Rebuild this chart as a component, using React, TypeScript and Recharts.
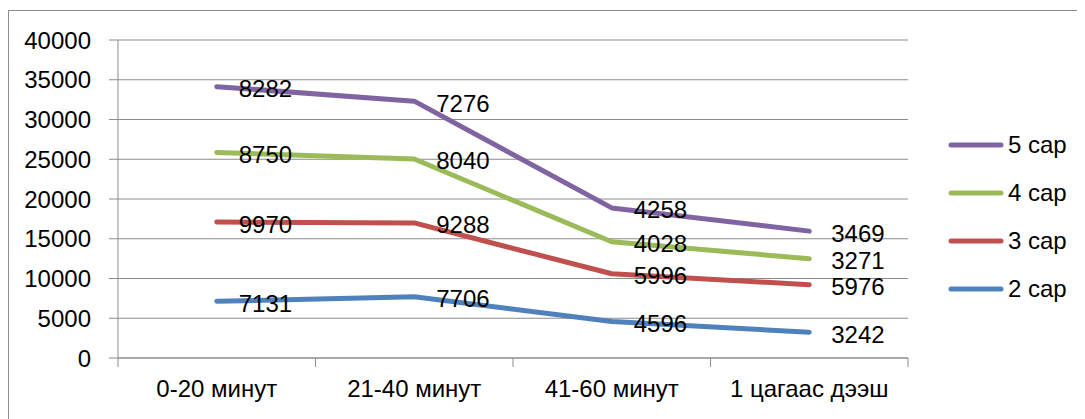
import React from 'react';
import { LineChart, Line, XAxis, YAxis, CartesianGrid, LabelList, Legend } from 'recharts';

const categories = ['0-20 минут', '21-40 минут', '41-60 минут', '1 цагаас дээш'];
const sar2 = [7131, 7706, 4596, 3242];
const sar3 = [9970, 9288, 5996, 5976];
const sar4 = [8750, 8040, 4028, 3271];
const sar5 = [8282, 7276, 4258, 3469];
const yTicks = [0, 5000, 10000, 15000, 20000, 25000, 30000, 35000, 40000];
const seriesNames = ['2 сар', '3 сар', '4 сар', '5 сар'];
const seriesColors = ['#4F81BD', '#C0504D', '#9BBB59', '#8064A2'];

const data = categories.map((name, i) => {
  const s2 = sar2[i];
  const s3 = s2 + sar3[i];
  const s4 = s3 + sar4[i];
  const s5 = s4 + sar5[i];
  return { name, v2: sar2[i], v3: sar3[i], v4: sar4[i], v5: sar5[i], s2, s3, s4, s5 };
});

const FONT = '"Liberation Sans", Arial, sans-serif';
const FS = 24;
const GRID = '#8c8c8c';
const PLOT_W = 790;
const HALF = PLOT_W / 8;

const XTick = (props: any) => {
  const { x, y, payload, index } = props;
  return (
    <g>
      <line x1={x - HALF} y1={y} x2={x - HALF} y2={y + 9} stroke={GRID} strokeWidth={1} />
      {index === categories.length - 1 && (
        <line x1={x + HALF} y1={y} x2={x + HALF} y2={y + 9} stroke={GRID} strokeWidth={1} />
      )}
      <text x={x} y={y + 30} textAnchor="middle" dominantBaseline="central" fontSize={FS} fontFamily={FONT} fill="#000">
        {payload.value}
      </text>
    </g>
  );
};

const DataLabel = (props: any) => {
  const { x, y, value } = props;
  return (
    <text x={x + 22} y={y + 2} dominantBaseline="central" fontSize={FS} fontFamily={FONT} fill="#000">
      {value}
    </text>
  );
};

const renderLegend = () => {
  const order = [3, 2, 1, 0];
  return (
    <div style={{ fontFamily: FONT, fontSize: FS }}>
      {order.map((i) => (
        <div key={i} style={{ height: 48, display: 'flex', alignItems: 'center' }}>
          <svg width={56} height={10} style={{ display: 'block' }}>
            <line x1={3} y1={5} x2={53} y2={5} stroke={seriesColors[i]} strokeWidth={5} strokeLinecap="round" />
          </svg>
          <span style={{ marginLeft: 4, color: '#000', lineHeight: '48px' }}>{seriesNames[i]}</span>
        </div>
      ))}
    </div>
  );
};

export default function App() {
  const keys = ['s2', 's3', 's4', 's5'];
  const vals = ['v2', 'v3', 'v4', 'v5'];
  return (
    <div style={{ position: 'relative', width: 1077, height: 411 }}>
      <div
        style={{
          position: 'absolute',
          top: 2,
          left: 0,
          width: 1077,
          height: 409,
          borderTop: `1px solid ${GRID}`,
          borderLeft: `1px solid ${GRID}`,
          boxSizing: 'border-box',
        }}
      />
      <LineChart
        width={1077}
        height={411}
        data={data}
        margin={{ top: 32, right: 177, bottom: 11, left: 10 }}
        style={{ position: 'absolute', top: 0, left: 0 }}
      >
        <CartesianGrid horizontal={true} vertical={false} stroke={GRID} strokeWidth={1} />
        <XAxis
          dataKey="name"
          height={50}
          padding={{ left: HALF, right: HALF }}
          axisLine={{ stroke: GRID, strokeWidth: 1 }}
          tickLine={false}
          tickSize={0}
          tickMargin={0}
          tick={<XTick />}
          interval={0}
        />
        <YAxis
          width={100}
          domain={[0, 40000]}
          ticks={yTicks}
          interval={0}
          axisLine={{ stroke: GRID, strokeWidth: 1 }}
          tickLine={{ stroke: GRID, strokeWidth: 1 }}
          tickSize={9}
          tickMargin={18}
          tick={{ fontSize: FS, fontFamily: FONT, fill: '#000' }}
        />
        <Legend
          layout="vertical"
          align="center"
          verticalAlign="middle"
          content={renderLegend}
          wrapperStyle={{ position: 'absolute', left: 940, top: 113, width: 130, height: 192 }}
        />
        {keys.map((k, i) => (
          <Line
            key={k}
            type="linear"
            dataKey={k}
            stroke={seriesColors[i]}
            strokeWidth={5}
            strokeLinecap="round"
            strokeLinejoin="round"
            dot={false}
            activeDot={false}
            isAnimationActive={false}
            name={seriesNames[i]}
          >
            <LabelList dataKey={vals[i]} content={<DataLabel />} />
          </Line>
        ))}
      </LineChart>
    </div>
  );
}
